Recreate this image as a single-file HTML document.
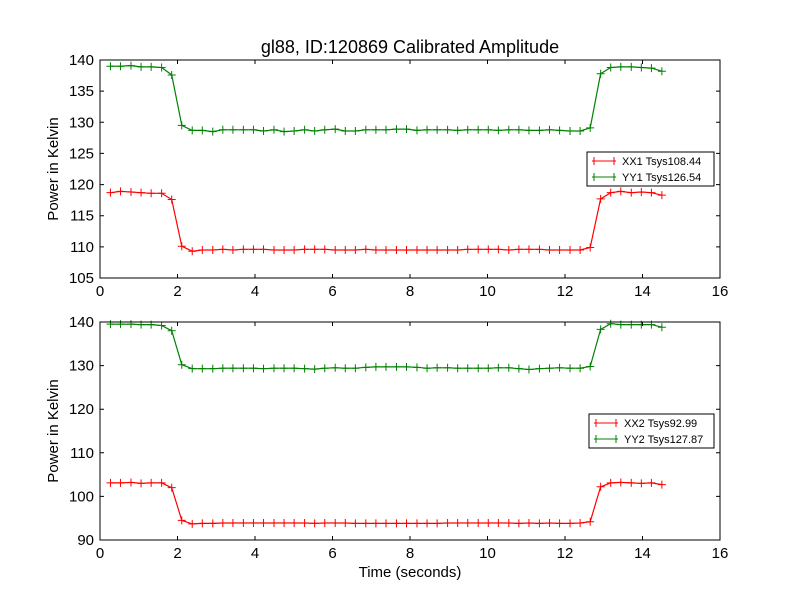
<!DOCTYPE html>
<html><head><meta charset="utf-8"><style>
body{margin:0;background:#fff;}
svg{display:block;font-family:"Liberation Sans","DejaVu Sans",sans-serif;}
</style></head><body>
<svg id="chart" width="800" height="600" viewBox="0 0 800 600">
<rect width="800" height="600" fill="#fff"/>
<text x="410" y="53" font-size="18" text-anchor="middle">gl88, ID:120869 Calibrated Amplitude</text>
<text x="410" y="577" font-size="15" text-anchor="middle">Time (seconds)</text>
</svg>
<script>
const times = [0.27,0.53,0.80,1.06,1.32,1.59,1.85,2.11,2.38,2.64,2.91,3.17,3.43,3.70,3.96,4.22,4.49,4.75,5.01,5.28,5.54,5.80,6.07,6.33,6.59,6.86,7.12,7.38,7.65,7.91,8.18,8.44,8.70,8.97,9.23,9.49,9.76,10.02,10.28,10.55,10.81,11.07,11.34,11.60,11.86,12.13,12.39,12.65,12.92,13.18,13.44,13.71,13.97,14.23,14.50];
const xx1 = [118.7,118.9,118.8,118.7,118.6,118.6,117.6,110.1,109.3,109.5,109.5,109.6,109.5,109.6,109.6,109.6,109.5,109.5,109.5,109.6,109.6,109.6,109.5,109.5,109.5,109.6,109.5,109.5,109.5,109.5,109.5,109.5,109.5,109.5,109.5,109.6,109.6,109.6,109.6,109.5,109.6,109.6,109.6,109.5,109.5,109.5,109.5,109.9,117.7,118.7,118.9,118.7,118.8,118.7,118.3];
const yy1 = [139.0,139.0,139.1,138.9,138.9,138.8,137.6,129.5,128.7,128.7,128.5,128.8,128.8,128.8,128.8,128.6,128.8,128.5,128.6,128.8,128.6,128.8,128.9,128.6,128.6,128.8,128.8,128.8,128.9,128.9,128.7,128.8,128.8,128.8,128.7,128.8,128.8,128.8,128.7,128.8,128.8,128.7,128.7,128.8,128.7,128.6,128.6,129.1,137.8,138.8,138.9,138.9,138.8,138.7,138.2];
const xx2 = [103.1,103.1,103.2,103.0,103.1,103.1,102.0,94.5,93.7,93.8,93.8,93.9,93.9,93.9,93.9,93.9,93.9,93.9,93.9,93.9,93.8,93.9,93.9,93.9,93.8,93.8,93.8,93.8,93.8,93.8,93.8,93.8,93.8,93.9,93.9,93.9,93.9,93.9,93.9,93.9,93.8,93.9,93.8,93.9,93.8,93.8,93.9,94.2,102.2,103.1,103.2,103.1,103.0,103.1,102.7];
const yy2 = [139.5,139.5,139.5,139.4,139.4,139.2,138.0,130.2,129.3,129.3,129.3,129.4,129.4,129.4,129.4,129.3,129.4,129.4,129.4,129.3,129.2,129.4,129.5,129.4,129.4,129.6,129.7,129.7,129.7,129.7,129.6,129.4,129.5,129.5,129.4,129.4,129.4,129.4,129.5,129.5,129.3,129.1,129.3,129.4,129.5,129.4,129.4,129.8,138.3,139.6,139.4,139.4,139.4,139.4,138.8];
const xTicks = [0,2,4,6,8,10,12,14,16];
const yTicksTop = [105,110,115,120,125,130,135,140];
const yTicksBot = [90,100,110,120,130,140];
const legendTop = ["XX1 Tsys108.44","YY1 Tsys126.54"];
const legendBot = ["XX2 Tsys92.99","YY2 Tsys127.87"];

const svg = document.getElementById('chart');
const NS = 'http://www.w3.org/2000/svg';
function mk(tag, attrs){const e=document.createElementNS(NS,tag);for(const k in attrs)e.setAttribute(k,attrs[k]);return e;}

function panel(name, top, bottom, ymin, ymax, yTicks, s1, s2, labels, leg){
  const L=100,R=720;
  const g=mk('g',{});
  
  
  svg.appendChild(g);
  const xs=v=>L+(v-0)/(16-0)*(R-L);
  const ys=v=>bottom-(v-ymin)/(ymax-ymin)*(bottom-top);
  const series=[[s1,'#ff0000',labels[0]],[s2,'#008000',labels[1]]];
  series.forEach(([d,c,lab])=>{
    const pts=d.map((v,i)=>xs(times[i]).toFixed(1)+','+ys(v).toFixed(1)).join(' ');
    const pl=mk('polyline',{points:pts,fill:'none',stroke:c,'stroke-width':1.2});
    
    
    g.appendChild(pl);
    d.forEach((v,i)=>{
      const x=xs(times[i]),y=ys(v);
      const m=mk('path',{d:`M${x-4},${y}H${x+4}M${x},${y-4}V${y+4}`,stroke:c,'stroke-width':1});
      
      
      g.appendChild(m);
    });
  });
  const fr=mk('rect',{x:L,y:top,width:R-L,height:bottom-top,fill:'none',stroke:'#000','stroke-width':1});
  
  
  g.appendChild(fr);
  xTicks.forEach(t=>{
    const x=xs(t);
    g.appendChild(mk('path',{d:`M${x},${bottom}v-4M${x},${top}v4`,stroke:'#000'}));
    const tx=mk('text',{x:x,y:bottom+18,'font-size':15,'text-anchor':'middle'});
    tx.textContent=t;
    
    
    g.appendChild(tx);
  });
  yTicks.forEach(t=>{
    const y=ys(t);
    g.appendChild(mk('path',{d:`M${L},${y}h4M${R},${y}h-4`,stroke:'#000'}));
    const tx=mk('text',{x:L-6,y:y+5,'font-size':15,'text-anchor':'end'});
    tx.textContent=t;
    
    
    g.appendChild(tx);
  });
  const yl=mk('text',{x:0,y:0,'font-size':15,'text-anchor':'middle',transform:`translate(58,${(top+bottom)/2}) rotate(-90)`});
  yl.textContent='Power in Kelvin';
  
  
  g.appendChild(yl);
  const lg=mk('g',{});
  
  
  g.appendChild(lg);
  lg.appendChild(mk('rect',{x:leg[0],y:leg[1],width:leg[2],height:34,fill:'#fff',stroke:'#000','stroke-width':1}));
  series.forEach(([d,c,lab],i)=>{
    const y=leg[1]+9+i*16;
    const x0=leg[0]+5;
    lg.appendChild(mk('path',{d:`M${x0},${y}h24M${x0+2},${y-4}v8M${x0+22},${y-4}v8`,stroke:c,'stroke-width':1}));
    const tx=mk('text',{x:x0+30,y:y+4,'font-size':11});
    tx.textContent=lab;
    
    
    lg.appendChild(tx);
  });
}
panel('top-panel',60,278,105,140,yTicksTop,xx1,yy1,legendTop,[587,152,127]);
panel('bottom-panel',322,540,90,140,yTicksBot,xx2,yy2,legendBot,[589,414,125]);
</script>
</body></html>
